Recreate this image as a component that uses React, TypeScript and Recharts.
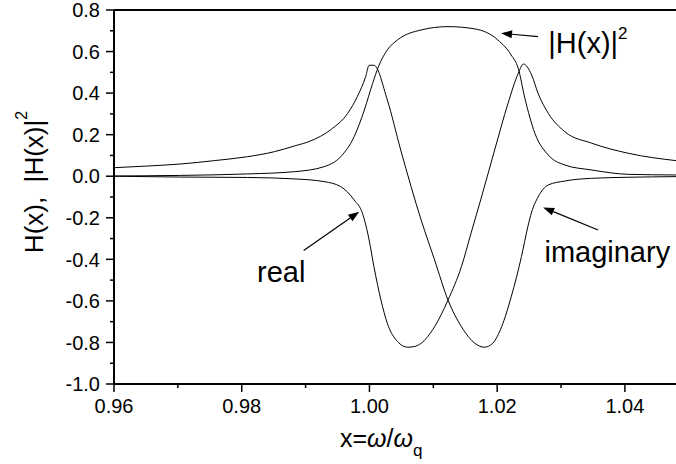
import React from 'react';
import { LineChart, Line, XAxis, YAxis, ReferenceLine, ReferenceDot } from 'recharts';

const FONT = '"Liberation Sans", Arial, Helvetica, sans-serif';

// x = omega / omega_q
const imX = [0.96, 0.9652, 0.9705, 0.9757, 0.9809, 0.9851, 0.9883, 0.9908, 0.9939, 0.9966, 0.9981, 0.9994, 0.99995, 1.0007, 1.0028, 1.0049, 1.0081, 1.0102, 1.0123, 1.0144, 1.0165, 1.018, 1.0193, 1.0207, 1.0222, 1.0238, 1.0248, 1.0254, 1.0264, 1.028, 1.0306, 1.0348, 1.0406, 1.048];
const imY = [0.041, 0.049, 0.059, 0.075, 0.094, 0.118, 0.146, 0.17, 0.223, 0.303, 0.383, 0.479, 0.534, 0.534, 0.367, 0.126, -0.211, -0.403, -0.596, -0.724, -0.804, -0.823, -0.804, -0.724, -0.58, -0.387, -0.243, -0.172, -0.1, -0.042, -0.023, -0.01, -0.005, -0.002];

const reX = [0.96, 0.9704, 0.9809, 0.9883, 0.9929, 0.9955, 0.9976, 0.9989, 0.99995, 1.0007, 1.0018, 1.0028, 1.0044, 1.006, 1.007, 1.0081, 1.0102, 1.0123, 1.0144, 1.0159, 1.0175, 1.0196, 1.0217, 1.0233, 1.0241, 1.0254, 1.0264, 1.028, 1.0306, 1.0348, 1.0406, 1.048];
const reY = [0.0, -0.004, -0.006, -0.013, -0.026, -0.05, -0.114, -0.178, -0.307, -0.435, -0.596, -0.708, -0.796, -0.823, -0.82, -0.804, -0.724, -0.596, -0.435, -0.275, -0.105, 0.126, 0.351, 0.495, 0.54, 0.487, 0.399, 0.303, 0.214, 0.159, 0.11, 0.075];

const h2X = [0.96, 0.9704, 0.9809, 0.9883, 0.9929, 0.9955, 0.9976, 0.9992, 1.0005, 1.0014, 1.0028, 1.0044, 1.0081, 1.0123, 1.0165, 1.0201, 1.0222, 1.0233, 1.0243, 1.0259, 1.028, 1.0306, 1.0348, 1.0406, 1.048];
const h2Y = [0.001, 0.004, 0.011, 0.022, 0.046, 0.094, 0.19, 0.319, 0.447, 0.527, 0.608, 0.656, 0.704, 0.72, 0.709, 0.656, 0.583, 0.519, 0.38, 0.207, 0.102, 0.054, 0.03, 0.009, 0.006];

const xTicks = [0.96, 0.97, 0.98, 0.99, 1.0, 1.01, 1.02, 1.03, 1.04];
const yTicks = [-1.0, -0.9, -0.8, -0.7, -0.6, -0.5, -0.4, -0.3, -0.2, -0.1, 0.0, 0.1, 0.2, 0.3, 0.4, 0.5, 0.6, 0.7, 0.8];

const zip = (xs: number[], ys: number[]) => xs.map((x, i) => ({ x, y: ys[i] }));
const reData = zip(reX, reY);
const imData = zip(imX, imY);
const h2Data = zip(h2X, h2Y);

const YTick = (props: any) => {
  const { x, y, payload } = props;
  const major = Math.round(payload.value * 10) % 2 === 0;
  return (
    <g>
      <line x1={x - (major ? 8 : 4)} y1={y} x2={x} y2={y} stroke="#000" strokeWidth={1.5} />
      {major && (
        <text x={x - 14} y={y} dy="0.36em" textAnchor="end" fontSize={20} fontFamily={FONT} fill="#000">
          {payload.value.toFixed(1)}
        </text>
      )}
    </g>
  );
};

const XTick = (props: any) => {
  const { x, y, payload } = props;
  const major = Math.round(payload.value * 100) % 2 === 0;
  return (
    <g>
      <line x1={x} y1={y} x2={x} y2={y + (major ? 8 : 4)} stroke="#000" strokeWidth={1.5} />
      {major && (
        <text x={x} y={y + 29} textAnchor="middle" fontSize={20} fontFamily={FONT} fill="#000">
          {payload.value.toFixed(2)}
        </text>
      )}
    </g>
  );
};

const YTitle = (props: any) => {
  const vb = props.viewBox;
  const cx = vb.x + 43;
  const cy = vb.y + vb.height / 2 - 15;
  return (
    <text x={cx} y={cy} transform={`rotate(-90, ${cx}, ${cy})`} textAnchor="middle" fontSize={26} fontFamily={FONT} fill="#000">
      {'H(x),\u00A0 |H(x)|'}
      <tspan fontSize={16} dy={-16}>2</tspan>
    </text>
  );
};

const XTitle = (props: any) => {
  const vb = props.viewBox;
  return (
    <text x={vb.x + 226} y={vb.y + 63} fontSize={25} fontFamily={FONT} fill="#000">
      x=<tspan fontStyle="italic">ω</tspan>/<tspan fontStyle="italic">ω</tspan>
      <tspan fontSize={17} dy={9}>q</tspan>
    </text>
  );
};

const Arrow = (props: any) => {
  const { x1, y1, x2, y2 } = props;
  const a = Math.atan2(y2 - y1, x2 - x1);
  const len = 11;
  const w = 4;
  const bx = x2 - len * Math.cos(a);
  const by = y2 - len * Math.sin(a);
  const px = -Math.sin(a) * w;
  const py = Math.cos(a) * w;
  return (
    <g>
      <line x1={x1} y1={y1} x2={bx} y2={by} stroke="#000" strokeWidth={1.2} />
      <polygon points={`${x2},${y2} ${bx + px},${by + py} ${bx - px},${by - py}`} fill="#000" />
    </g>
  );
};

const textAt = (content: React.ReactNode) => (p: any) => (
  <text x={p.cx} y={p.cy} fontSize={29} fontFamily={FONT} fill="#000">
    {content}
  </text>
);

export default function App() {
  return (
    <div style={{ position: 'absolute', left: 0, top: 0, background: '#fff' }}>
      <LineChart width={676} height={464} margin={{ top: 10, right: 0, bottom: 0, left: 0 }}>
        <XAxis
          type="number"
          dataKey="x"
          domain={[0.96, 1.048]}
          allowDataOverflow
          ticks={xTicks}
          interval={0}
          tick={XTick}
          tickLine={false}
          tickSize={0}
          tickMargin={0}
          height={80}
          axisLine={{ stroke: '#000', strokeWidth: 2 }}
          label={XTitle}
        />
        <YAxis
          type="number"
          dataKey="y"
          domain={[-1.0, 0.8]}
          allowDataOverflow
          ticks={yTicks}
          interval={0}
          tick={YTick}
          tickLine={false}
          tickSize={0}
          tickMargin={0}
          width={114}
          axisLine={{ stroke: '#000', strokeWidth: 2 }}
          label={YTitle}
        />
        <ReferenceLine y={0.8} stroke="#000" strokeWidth={2} />
        <Line data={h2Data} dataKey="y" type="monotone" stroke="#000" strokeWidth={1} dot={false} isAnimationActive={false} />
        <Line data={reData} dataKey="y" type="monotone" stroke="#000" strokeWidth={1} dot={false} isAnimationActive={false} />
        <Line data={imData} dataKey="y" type="monotone" stroke="#000" strokeWidth={1} dot={false} isAnimationActive={false} />
        <ReferenceLine segment={[{ x: 1.0264, y: 0.672 }, { x: 1.0206, y: 0.688 }]} shape={Arrow} />
        <ReferenceLine segment={[{ x: 0.9897, y: -0.358 }, { x: 0.9984, y: -0.171 }]} shape={Arrow} />
        <ReferenceLine segment={[{ x: 1.0358, y: -0.259 }, { x: 1.0272, y: -0.15 }]} shape={Arrow} />
        <ReferenceDot
          x={1.028}
          y={0.592}
          shape={textAt(
            <>
              |H(x)|<tspan fontSize={17} dy={-14}>2</tspan>
            </>
          )}
        />
        <ReferenceDot x={0.9824} y={-0.507} shape={textAt('real')} />
        <ReferenceDot x={1.0274} y={-0.411} shape={textAt('imaginary')} />
      </LineChart>
    </div>
  );
}
